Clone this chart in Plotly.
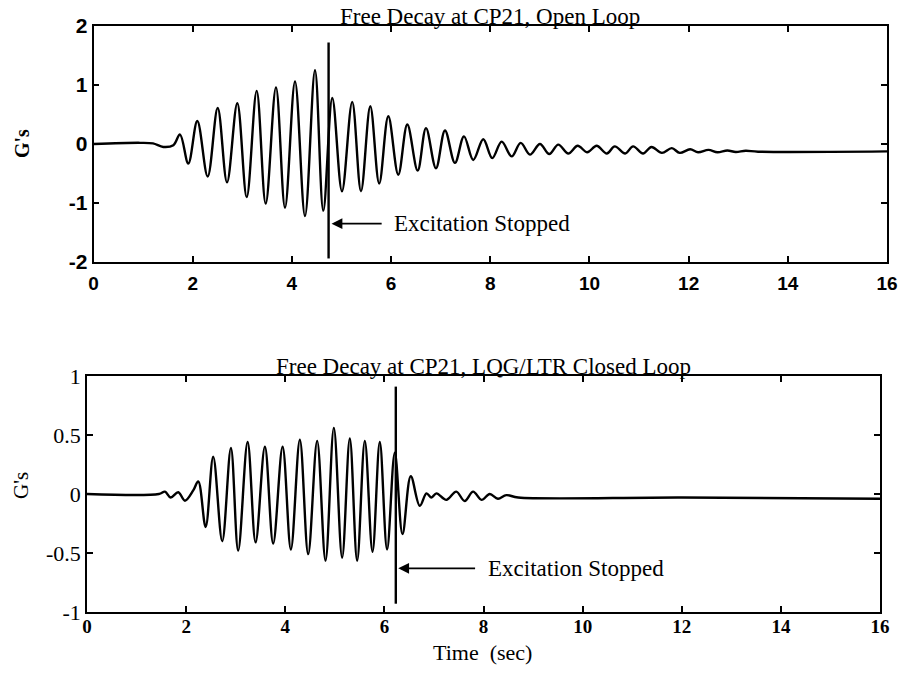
import plotly.graph_objects as go

# Turning points of the CP21 acceleration trace, open loop (time in s, G's)
open_t = [0.0, 0.94, 1.2, 1.407, 1.61, 1.744, 1.911, 2.093, 2.302, 2.504, 2.692,
          2.899, 3.089, 3.290, 3.472, 3.679, 3.861, 4.063, 4.264, 4.466, 4.633,
          4.815, 5.01, 5.216, 5.393, 5.581, 5.760, 5.944, 6.145, 6.327, 6.536,
          6.704, 6.905, 7.087, 7.288, 7.470, 7.657, 7.859, 8.040, 8.230, 8.431,
          8.613, 8.800, 9.002, 9.190, 9.371, 9.573, 9.762, 9.956, 10.145, 10.35,
          10.51, 10.72, 10.88, 11.08, 11.25, 11.46, 11.66, 11.82, 12.03, 12.19,
          12.40, 12.58, 12.78, 12.95, 13.15, 13.4, 16.0]
open_g = [0.0, 0.02, 0.01, -0.05, -0.02, 0.16, -0.33, 0.39, -0.55, 0.61, -0.65,
          0.69, -0.90, 0.90, -1.01, 0.96, -1.08, 1.06, -1.22, 1.25, -1.13,
          0.78, -0.80, 0.715, -0.80, 0.64, -0.67, 0.47, -0.52, 0.33, -0.45,
          0.27, -0.41, 0.23, -0.32, 0.13, -0.27, 0.08, -0.24, 0.04, -0.21,
          0.02, -0.18, 0.00, -0.17, -0.01, -0.16, -0.03, -0.14, -0.03, -0.16,
          -0.04, -0.16, -0.04, -0.16, -0.05, -0.15, -0.07, -0.15, -0.09, -0.14,
          -0.10, -0.14, -0.11, -0.135, -0.115, -0.13, -0.125]

# Turning points with the LQG/LTR loop closed
closed_t = [0.0, 1.45, 1.573, 1.687, 1.841, 1.976, 2.143, 2.244, 2.393, 2.546,
            2.728, 2.903, 3.050, 3.240, 3.401, 3.589, 3.756, 3.946, 4.113, 4.294,
            4.462, 4.643, 4.812, 4.980, 5.147, 5.302, 5.450, 5.605, 5.760, 5.907,
            6.054, 6.21, 6.365, 6.532, 6.714, 6.849, 6.95, 7.05, 7.25, 7.45,
            7.62, 7.79, 7.96, 8.125, 8.29, 8.46, 8.7, 12.0, 16.0]
closed_g = [0.0, 0.0, 0.02, -0.03, 0.015, -0.057, 0.03, 0.107, -0.28, 0.316,
            -0.40, 0.39, -0.48, 0.44, -0.41, 0.40, -0.42, 0.40, -0.47, 0.46,
            -0.51, 0.45, -0.565, 0.56, -0.54, 0.47, -0.565, 0.45, -0.49, 0.44,
            -0.47, 0.35, -0.34, 0.15, -0.10, 0.005, -0.03, 0.005, -0.05, 0.02,
            -0.06, 0.02, -0.05, 0.0, -0.04, -0.01, -0.03, -0.03, -0.04]

# Instant the shaker was switched off, with the extent of the marker line
open_stop_t = 4.74
open_stop_span = [1.72, -1.94]
closed_stop_t = 6.23
closed_stop_span = [0.91, -0.93]

time_ticks = [0, 2, 4, 6, 8, 10, 12, 14, 16]
open_ticks = [2, 1, 0, -1, -2]
open_tick_text = ["2", "1", "0", "-1", "-2"]
closed_ticks = [1, 0.5, 0, -0.5, -1]
closed_tick_text = ["1", "0.5", "0", "-0.5", "-1"]

SERIF = "Liberation Serif"
SANS = "Liberation Sans"
INK = "black"

fig = go.Figure()

fig.add_trace(go.Scatter(x=open_t, y=open_g, mode="lines",
                         line=dict(color=INK, width=2.4, shape="spline", smoothing=1.0),
                         xaxis="x", yaxis="y", showlegend=False))
fig.add_trace(go.Scatter(x=[open_stop_t, open_stop_t], y=open_stop_span, mode="lines",
                         line=dict(color=INK, width=2.4), xaxis="x", yaxis="y",
                         showlegend=False))
fig.add_trace(go.Scatter(x=closed_t, y=closed_g, mode="lines",
                         line=dict(color=INK, width=2.4, shape="spline", smoothing=1.0),
                         xaxis="x2", yaxis="y2", showlegend=False))
fig.add_trace(go.Scatter(x=[closed_stop_t, closed_stop_t], y=closed_stop_span, mode="lines",
                         line=dict(color=INK, width=2.4), xaxis="x2", yaxis="y2",
                         showlegend=False))

axis_common = dict(showline=True, linecolor=INK, linewidth=1.8, mirror="ticks",
                   ticks="inside", ticklen=6, tickwidth=1.5, tickcolor=INK,
                   showgrid=False, zeroline=False, automargin=False)

fig.update_layout(
    width=900, height=683,
    margin=dict(l=0, r=0, t=0, b=0, autoexpand=False),
    paper_bgcolor="white", plot_bgcolor="white",
    xaxis=dict(domain=[0.1039, 0.9856], range=[0, 16], anchor="y",
               tickvals=time_ticks, ticktext=["<b>%d</b>" % v for v in time_ticks],
               tickfont=dict(family=SANS, size=19, color=INK),
               ticklabelstandoff=3, **axis_common),
    yaxis=dict(domain=[0.6164, 0.9619], range=[-2, 2], anchor="x",
               tickvals=open_ticks, ticktext=["<b>%s</b>" % s for s in open_tick_text],
               tickfont=dict(family=SANS, size=21, color=INK),
               ticklabelstandoff=0, **axis_common),
    xaxis2=dict(domain=[0.0967, 0.9778], range=[0, 16], anchor="y2",
                tickvals=time_ticks, ticktext=["<b>%d</b>" % v for v in time_ticks],
                tickfont=dict(family=SERIF, size=19, color=INK),
                ticklabelstandoff=-4, **axis_common),
    yaxis2=dict(domain=[0.1040, 0.4495], range=[-1, 1], anchor="x2",
                tickvals=closed_ticks, ticktext=closed_tick_text,
                tickfont=dict(family=SERIF, size=22, color=INK),
                ticklabelstandoff=0, **axis_common),
)

annotations = [
    dict(text="Free Decay at CP21, Open Loop", xref="x domain", yref="y domain",
         x=0.5, y=1.0, xanchor="center", yanchor="bottom", yshift=-5, showarrow=False,
         font=dict(family=SERIF, size=23, color=INK)),
    dict(text="Free Decay at CP21, LQG/LTR Closed Loop", xref="x2 domain", yref="y2 domain",
         x=0.5, y=1.0, xanchor="center", yanchor="bottom", yshift=-5, showarrow=False,
         font=dict(family=SERIF, size=23, color=INK)),
    dict(text="<b>G's</b>", xref="paper", yref="paper", x=22 / 900, y=1 - 144 / 683,
         xanchor="center", yanchor="middle", textangle=-90, showarrow=False,
         font=dict(family=SERIF, size=20, color=INK)),
    dict(text="G's", xref="paper", yref="paper", x=21 / 900, y=1 - 486 / 683,
         xanchor="center", yanchor="middle", textangle=-90, showarrow=False,
         font=dict(family=SERIF, size=21, color=INK)),
    dict(text="Time  (sec)", xref="paper", yref="paper", x=483 / 900, y=1 - 652 / 683,
         xanchor="center", yanchor="middle", showarrow=False,
         font=dict(family=SERIF, size=22, color=INK)),
    # arrows pointing back at the stop instant
    dict(text="", xref="x", yref="y", x=4.80, y=-1.35, axref="x", ayref="y",
         ax=5.84, ay=-1.35, showarrow=True, arrowhead=2, arrowsize=1.2,
         arrowwidth=1.8, arrowcolor=INK),
    dict(text="Excitation Stopped", xref="x", yref="y", x=6.02, y=-1.35,
         xanchor="left", yanchor="middle", showarrow=False,
         font=dict(family=SERIF, size=23, color=INK)),
    dict(text="", xref="x2", yref="y2", x=6.28, y=-0.63, axref="x2", ayref="y2",
         ax=7.86, ay=-0.63, showarrow=True, arrowhead=2, arrowsize=1.2,
         arrowwidth=1.8, arrowcolor=INK),
    dict(text="Excitation Stopped", xref="x2", yref="y2", x=8.04, y=-0.63,
         xanchor="left", yanchor="middle", showarrow=False,
         font=dict(family=SERIF, size=23, color=INK)),
]
fig.update_layout(annotations=annotations)

fig.write_html("out.html")
